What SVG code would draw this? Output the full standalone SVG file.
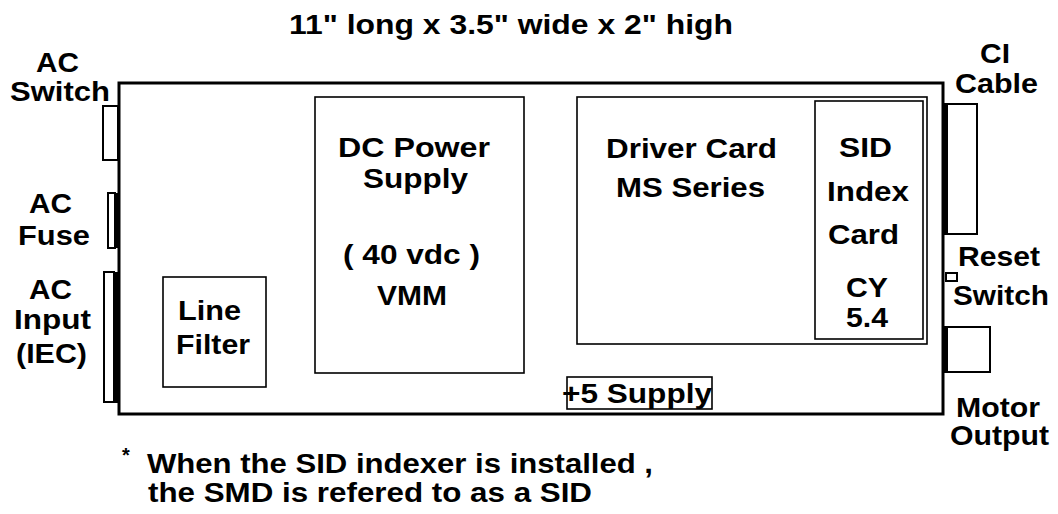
<svg xmlns="http://www.w3.org/2000/svg" width="1058" height="514" viewBox="0 0 1058 514">
<style>
text{font-family:"Liberation Sans",Arial,sans-serif;font-weight:bold;font-size:28px;fill:#000}
.box{fill:#fff;stroke:#000;stroke-width:2}
.thin{fill:none;stroke:#000;stroke-width:1.6}
.solid{fill:#000;stroke:none}
</style>
<rect width="1058" height="514" fill="#fff"/>
<g id="title"><text x="289" y="34" textLength="444" lengthAdjust="spacingAndGlyphs">11" long x 3.5" wide x 2" high</text></g>
<g id="enclosure"><rect x="119" y="83" width="824" height="331" fill="#fff" stroke="#000" stroke-width="3"/></g>
<g id="ac-switch">
<rect x="103" y="106" width="15" height="54" class="box"/>
<text x="36" y="72" textLength="43" lengthAdjust="spacingAndGlyphs">AC</text>
<text x="10" y="101" textLength="100" lengthAdjust="spacingAndGlyphs">Switch</text>
</g>
<g id="ac-fuse">
<rect x="108" y="193" width="7" height="55" class="box"/>
<rect x="114" y="193" width="6" height="55" class="solid"/>
<text x="29" y="213" textLength="43" lengthAdjust="spacingAndGlyphs">AC</text>
<text x="18" y="245" textLength="72" lengthAdjust="spacingAndGlyphs">Fuse</text>
</g>
<g id="ac-input">
<rect x="104" y="272" width="10" height="130" class="box"/>
<rect x="113" y="272" width="7" height="131" class="solid"/>
<text x="29" y="299" textLength="43" lengthAdjust="spacingAndGlyphs">AC</text>
<text x="14" y="329" textLength="77" lengthAdjust="spacingAndGlyphs">Input</text>
<text x="16" y="363" textLength="71" lengthAdjust="spacingAndGlyphs">(IEC)</text>
</g>
<g id="line-filter">
<rect x="163" y="277" width="103" height="110" class="thin"/>
<text x="178" y="320" textLength="63" lengthAdjust="spacingAndGlyphs">Line</text>
<text x="176" y="354" textLength="74" lengthAdjust="spacingAndGlyphs">Filter</text>
</g>
<g id="dc-power-supply">
<rect x="315" y="97" width="209" height="276" class="thin"/>
<text x="338" y="157" textLength="152" lengthAdjust="spacingAndGlyphs">DC Power</text>
<text x="363" y="188" textLength="105" lengthAdjust="spacingAndGlyphs">Supply</text>
<text x="343" y="264" textLength="137" lengthAdjust="spacingAndGlyphs">( 40 vdc )</text>
<text x="377" y="305" textLength="70" lengthAdjust="spacingAndGlyphs">VMM</text>
</g>
<g id="driver-card">
<rect x="577" y="97" width="350" height="247" class="thin"/>
<text x="606" y="158" textLength="171" lengthAdjust="spacingAndGlyphs">Driver Card</text>
<text x="616" y="197" textLength="149" lengthAdjust="spacingAndGlyphs">MS Series</text>
</g>
<g id="sid-index-card">
<rect x="815" y="101" width="108" height="238" class="thin"/>
<text x="839" y="157" textLength="53" lengthAdjust="spacingAndGlyphs">SID</text>
<text x="827" y="201" textLength="82" lengthAdjust="spacingAndGlyphs">Index</text>
<text x="828" y="244" textLength="71" lengthAdjust="spacingAndGlyphs">Card</text>
<text x="846" y="297" textLength="42" lengthAdjust="spacingAndGlyphs">CY</text>
<text x="846" y="327" textLength="42" lengthAdjust="spacingAndGlyphs">5.4</text>
</g>
<g id="plus5-supply">
<rect x="567" y="377" width="145" height="32" class="thin"/>
<text x="562" y="403" textLength="150" lengthAdjust="spacingAndGlyphs">+5 Supply</text>
</g>
<g id="ci-cable">
<rect x="945" y="104" width="32" height="130" class="box"/>
<rect x="942" y="104" width="6" height="130" class="solid"/>
<text x="980" y="63" textLength="30" lengthAdjust="spacingAndGlyphs">CI</text>
<text x="955" y="93" textLength="83" lengthAdjust="spacingAndGlyphs">Cable</text>
</g>
<g id="reset-switch">
<rect x="946" y="273" width="11" height="8" class="box"/>
<text x="958" y="266" textLength="82" lengthAdjust="spacingAndGlyphs">Reset</text>
<text x="953" y="305" textLength="96" lengthAdjust="spacingAndGlyphs">Switch</text>
</g>
<g id="motor-output">
<rect x="945" y="327" width="45" height="45" class="box"/>
<rect x="942" y="327" width="6" height="45" class="solid"/>
<text x="956" y="417" textLength="84" lengthAdjust="spacingAndGlyphs">Motor</text>
<text x="950" y="445" textLength="99" lengthAdjust="spacingAndGlyphs">Output</text>
</g>
<g id="footnote">
<text x="122" y="462" style="font-size:20px">*</text>
<text x="147" y="473" textLength="506" lengthAdjust="spacingAndGlyphs">When the SID indexer is installed ,</text>
<text x="148" y="502" textLength="444" lengthAdjust="spacingAndGlyphs">the SMD is refered to as a SID</text>
</g>
<g id="connectors"></g>
</svg>
